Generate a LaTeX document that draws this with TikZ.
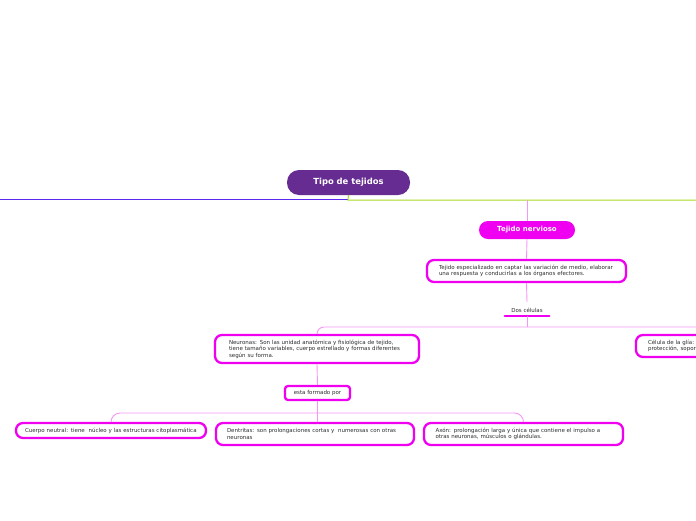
\documentclass[tikz,border=0pt]{standalone}
\usepackage{fontspec}
\setmainfont{DejaVu Sans}
\usepackage{tikz}
\usetikzlibrary{calc}
\definecolor{rootpurple}{RGB}{102,44,145}
\definecolor{mag}{RGB}{240,0,240}
\definecolor{lnpink}{RGB}{245,150,245}
\definecolor{lnblue}{RGB}{92,40,240}
\definecolor{lngreen}{RGB}{168,218,30}
\definecolor{txtgray}{RGB}{45,45,45}
\tikzset{
  roottopic/.style={fill=rootpurple, text=white, rounded corners=12pt, minimum width=123pt,
    minimum height=25pt, font=\fontsize{8.4}{10}\selectfont\bfseries, inner sep=0pt},
  maintopic/.style={fill=mag, text=white, rounded corners=9pt, minimum width=96pt,
    minimum height=18pt, font=\fontsize{7}{8}\selectfont\bfseries, inner sep=0pt},
  leaf/.style={draw=mag, line width=2.3pt, fill=white, rounded corners=7pt, text=txtgray,
    font=\fontsize{5.5}{6.6}\selectfont, align=left, inner xsep=0pt, inner ysep=0pt},
  branch/.style={draw=lnpink, line width=0.9pt},
  uline/.style={draw=mag, line width=2.5pt, line cap=round}
}
\begin{document}
\begin{tikzpicture}[x=1pt,y=-1pt]
  \useasboundingbox (0,0) rectangle (696,520);
  \clip (0,0) rectangle (696,520);
  % central topic and main branch lines
  \node[roottopic] (root) at (348.5,182.5) {Tipo de tejidos};
  \coordinate (hubT) at (348,200);
  \draw[lnblue, line width=1pt] (0,199) -- (348,199);
  \draw[lngreen, line width=1pt] (root.south) -- (hubT) -- (696,200);
  % tejido nervioso
  \node[maintopic] (nerv) at (527,230) {Tejido nervioso};
  \draw[branch] (nerv.north |- hubT) -- (nerv.north);
  \node[leaf, minimum width=199pt, minimum height=22pt, text width=175pt] (esp) at (526.5,271)
    {Tejido especializado en captar las variación de medio, elaborar\\una respuesta y conducirlas a los órganos efectores.};
  \draw[branch] (nerv.south) -- (esp.north);
  \node[text=txtgray, font=\fontsize{5.5}{6}\selectfont, minimum width=44pt, inner sep=0pt,
    minimum height=12pt] (dos) at (527,310) {Dos células};
  \draw[branch] (esp.south) -- ([yshift=2pt]dos.north);
  \draw[uline] (dos.south west) -- (dos.south east);
  \coordinate (hubD) at (527,327);
  \draw[branch] (dos.south) -- (hubD);
  % neuronas
  \node[leaf, minimum width=204pt, minimum height=28pt, text width=176pt] (neur) at (317,349)
    {Neuronas: Son las unidad anatómica y fisiológica de tejido,\\tiene tamaño variables, cuerpo estrellado y formas diferentes\\según su forma.};
  \node[leaf, minimum width=200pt, minimum height=22pt, text width=176pt] (glia) at (736,346)
    {Célula de la glía: proporcionan\\protección, soporte y nutrición.};
  \draw[branch, rounded corners=7pt] (hubD) -| (neur.north);
  \draw[branch, rounded corners=7pt] (hubD) -| (glia.north);
  \node[leaf, rounded corners=3pt, minimum width=65pt, minimum height=14pt, align=center] (forma) at (317.5,393)
    {esta formado por};
  \draw[branch] (neur.south) -- (forma.north);
  % partes de la neurona
  \node[leaf, minimum width=190pt, minimum height=15pt, text width=172pt] (cuerpo) at (111,430.5)
    {Cuerpo neutral: tiene \ núcleo y las estructuras citoplasmática};
  \node[leaf, minimum width=198pt, minimum height=22pt, text width=176pt] (dent) at (315,434)
    {Dentritas: son prolongaciones cortas y \ numerosas con otras\\neuronas};
  \node[leaf, minimum width=199pt, minimum height=22pt, text width=176pt] (axon) at (523.5,434)
    {Axón: prolongación larga y única que contiene el impulso a\\otras neuronas, músculos o glándulas.};
  \coordinate (hubN) at (forma.south |- 0,413);
  \draw[branch] (forma.south) -- (hubN) -- (hubN |- dent.north);
  \draw[branch, rounded corners=9pt] (hubN) -| (cuerpo.north);
  \draw[branch, rounded corners=9pt] (hubN) -| (axon.north);
\end{tikzpicture}
\end{document}
